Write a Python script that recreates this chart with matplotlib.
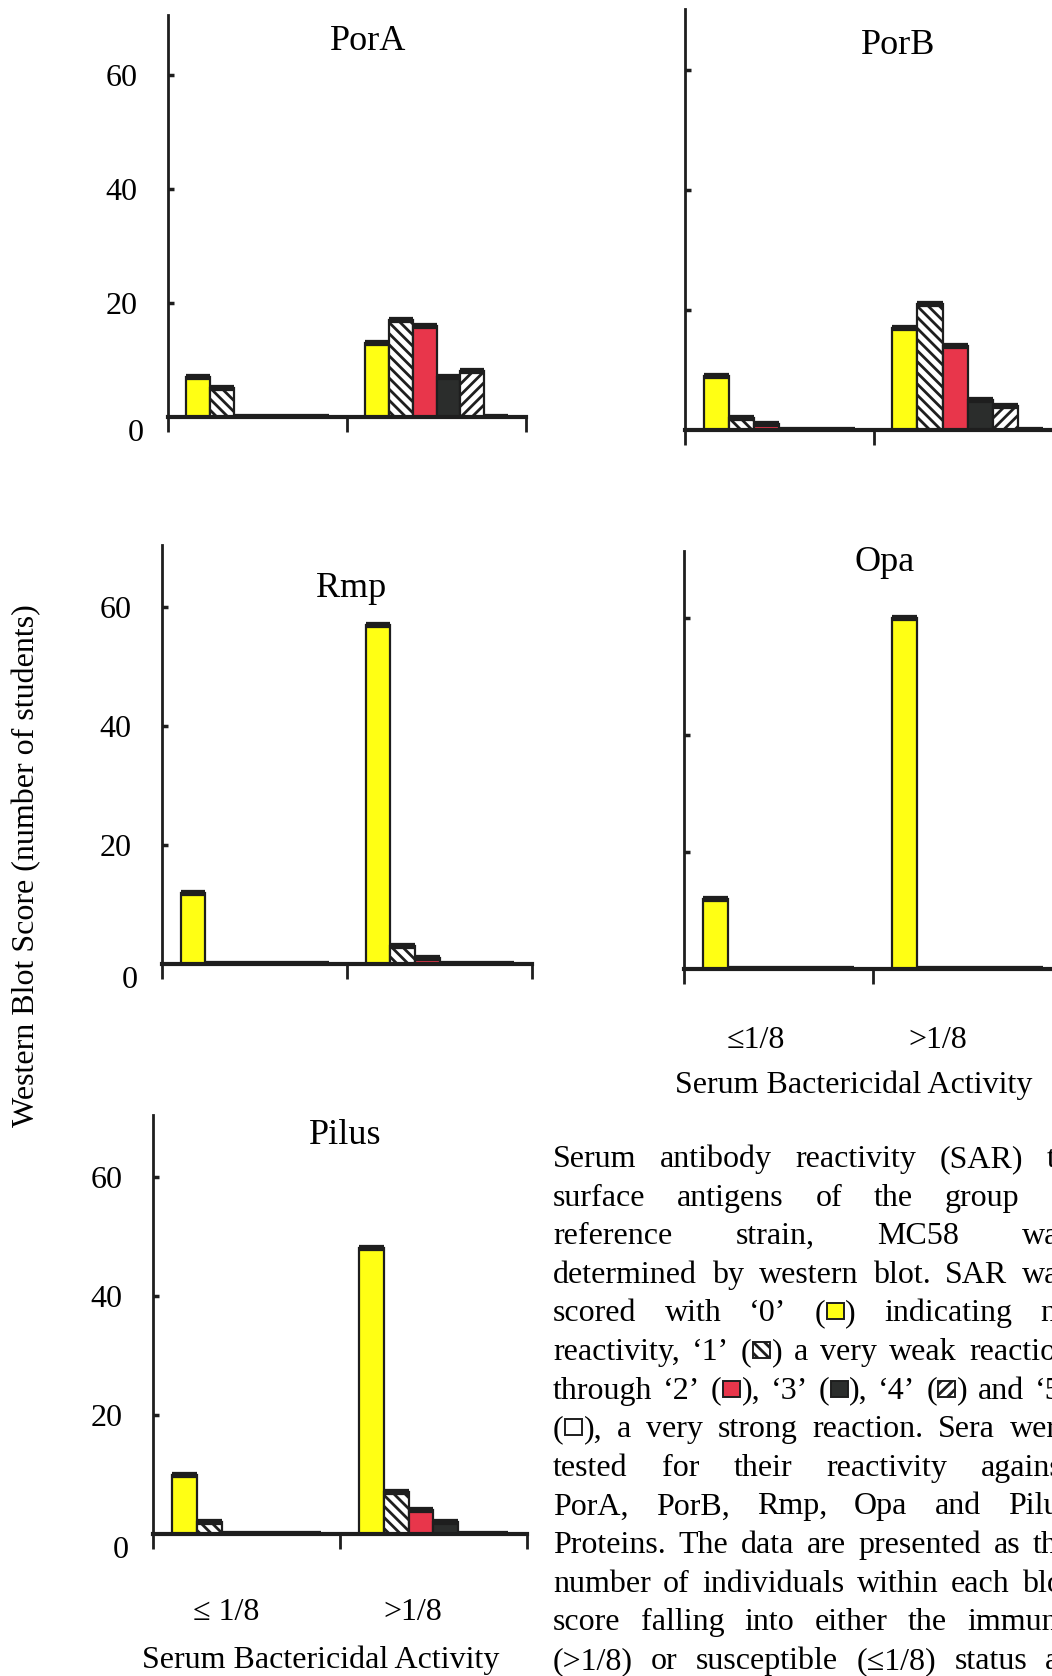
import re
import matplotlib
matplotlib.use('Agg')
import matplotlib.pyplot as plt
from matplotlib.patches import Rectangle

plt.rcParams['font.family'] = ['Liberation Serif', 'DejaVu Serif']
plt.rcParams['hatch.linewidth'] = 2.0

W, H = 1052, 1676

# western blot scores 0..5, split by serum bactericidal titre
scores = ['0', '1', '2', '3', '4', '5']
titre_groups = ['≤1/8', '>1/8']
score_colors = ['#ffff14', 'white', '#e8364b', '#2b2d2c', 'white', 'white']
score_hatches = [None, '\\\\\\', None, None, '///', None]
dark = '#1e1e1e'

porA_le = [7, 5, 0, 0, 0, 0]
porA_gt = [13, 17, 16, 7, 8, 0]
porB_le = [9, 2, 1, 0, 0, 0]
porB_gt = [17, 21, 14, 5, 4, 0]
rmp_le = [12, 0, 0, 0, 0, 0]
rmp_gt = [57, 3, 1, 0, 0, 0]
opa_le = [12, 0, 0, 0, 0, 0]
opa_gt = [60, 0, 0, 0, 0, 0]
pilus_le = [10, 2, 0, 0, 0, 0]
pilus_gt = [48, 7, 4, 2, 0, 0]

ytick_vals = [20, 40, 60]

caption_lines = [
    "Serum antibody reactivity (SAR) to",
    "surface antigens of the group B",
    "reference strain, MC58 was",
    "determined by western blot. SAR was",
    "scored with ‘0’ ([0]) indicating no",
    "reactivity, ‘1’ ([1]) a very weak reaction",
    "through ‘2’ ([2]), ‘3’ ([3]), ‘4’ ([4]) and ‘5’",
    "([5]), a very strong reaction. Sera were",
    "tested for their reactivity against",
    "PorA, PorB, Rmp, Opa and Pilus",
    "Proteins. The data are presented as the",
    "number of individuals within each blot",
    "score falling into either the immune",
    "(>1/8) or susceptible (≤1/8) status as",
]

FS = 23
fig = plt.figure(figsize=(W / 100, H / 100), dpi=100)


def fx(px):
    return px / W


def fy(py):
    return 1 - py / H


def panel(x0, x1, base, top, ppu, le, gt, title, title_xy, left_labels):
    ax = fig.add_axes([fx(x0), fy(base), (x1 - x0) / W, (base - top) / H])
    ax.set_xlim(-0.5, 1.5)
    ax.set_ylim(0, (base - top) / ppu)
    w = 0.8 / len(scores)
    for g, vals in enumerate([le, gt]):
        xs = [g - 0.4 + w * (k + 0.5) for k in range(len(scores))]
        for k, (x, v) in enumerate(zip(xs, vals)):
            ax.bar(x, v, width=w, color=score_colors[k], edgecolor=dark,
                   linewidth=1.6, hatch=score_hatches[k], zorder=2)
        ax.hlines(vals, [x - w / 2 for x in xs], [x + w / 2 for x in xs],
                  colors=dark, linewidth=4.5, zorder=3)
    for side in ['top', 'right']:
        ax.spines[side].set_visible(False)
    ax.spines['left'].set_linewidth(2)
    ax.spines['left'].set_color(dark)
    ax.spines['bottom'].set_linewidth(3)
    ax.spines['bottom'].set_color(dark)
    ax.spines['bottom'].set_zorder(4)
    ax.set_xticks([-0.5, 0.5, 1.5])
    ax.tick_params(axis='x', direction='out', length=11, width=2,
                   color=dark, labelbottom=False)
    ax.set_yticks(ytick_vals)
    ax.tick_params(axis='y', direction='in', length=4, width=2.5, color=dark,
                   pad=22, labelsize=FS, labelleft=left_labels)
    if left_labels:
        ax.set_yticklabels([str(v) for v in ytick_vals])
        ax.annotate('0', xy=(0, 0), xycoords=('axes fraction', 'data'),
                    xytext=(-24, -2), textcoords='offset pixels',
                    ha='right', va='top', fontsize=FS)
    fig.text(fx(title_xy[0]), fy(title_xy[1]), title, fontsize=26,
             ha='center', va='center')
    return ax


panel(168, 526, 417, 15, 5.7, porA_le, porA_gt, 'PorA', (368, 41), True)
panel(685, 1062, 430, 9, 6.0, porB_le, porB_gt, 'PorB', (898, 45), False)
panel(162, 532, 964, 545, 5.95, rmp_le, rmp_gt, 'Rmp', (351, 588), True)
ax_opa = panel(684, 1062, 969, 551, 5.85, opa_le, opa_gt, 'Opa', (885, 562), False)
ax_pil = panel(153, 527, 1534, 1115, 5.95, pilus_le, pilus_gt, 'Pilus', (345, 1135), True)

# titre labels under the Opa and Pilus panels
for ax, labels, dx, dy, xl_dy in [(ax_opa, titre_groups, [-23, -30], 71, 116),
                                  (ax_pil, ['≤ 1/8', '>1/8'], [-20, -21], 78, 126)]:
    for i, lab in enumerate(labels):
        ax.annotate(lab, xy=(i, 0), xycoords=('data', 'axes fraction'),
                    xytext=(dx[i], -dy), textcoords='offset pixels',
                    ha='center', va='center', fontsize=FS)
    ax.annotate('Serum Bactericidal Activity', xy=(0.5, 0), xycoords='axes fraction',
                xytext=(-19, -xl_dy), textcoords='offset pixels',
                ha='center', va='center', fontsize=FS)

fig.text(fx(27), fy(866), 'Western Blot Score (number of students)',
         rotation=90, ha='center', va='center', fontsize=FS)

# justified caption block
renderer = fig.canvas.get_renderer()
SW, SH = 17, 16


def text_w(s):
    if not s:
        return 0.0
    t = fig.text(0, 0, s, fontsize=FS)
    bb = t.get_window_extent(renderer)
    t.remove()
    return bb.width


def word_parts(word):
    parts = re.split(r'\[(\d)\]', word)
    out = []
    for i, p in enumerate(parts):
        if i % 2 == 0:
            if p:
                out.append(('t', p, text_w(p)))
        else:
            out.append(('s', int(p), SW + 3))
    return out


cap_left, cap_right = 553, 1072
first_base, line_step = 1167, 38.6
for li, line in enumerate(caption_lines):
    words = [word_parts(wd) for wd in line.split()]
    widths = [sum(p[2] for p in wp) for wp in words]
    gap = (cap_right - cap_left - sum(widths)) / (len(words) - 1)
    yb = first_base + li * line_step
    x = cap_left
    for wp, ww in zip(words, widths):
        for kind, val, pw in wp:
            if kind == 't':
                fig.text(fx(x), fy(yb), val, fontsize=FS, ha='left', va='baseline')
            else:
                fig.add_artist(Rectangle((fx(x + 1.5), fy(yb - 2)), SW / W, SH / H,
                                         transform=fig.transFigure,
                                         facecolor=score_colors[val], edgecolor=dark,
                                         linewidth=1.4, hatch=score_hatches[val]))
            x += pw
        x += gap

fig.savefig('out.png', dpi=100)
